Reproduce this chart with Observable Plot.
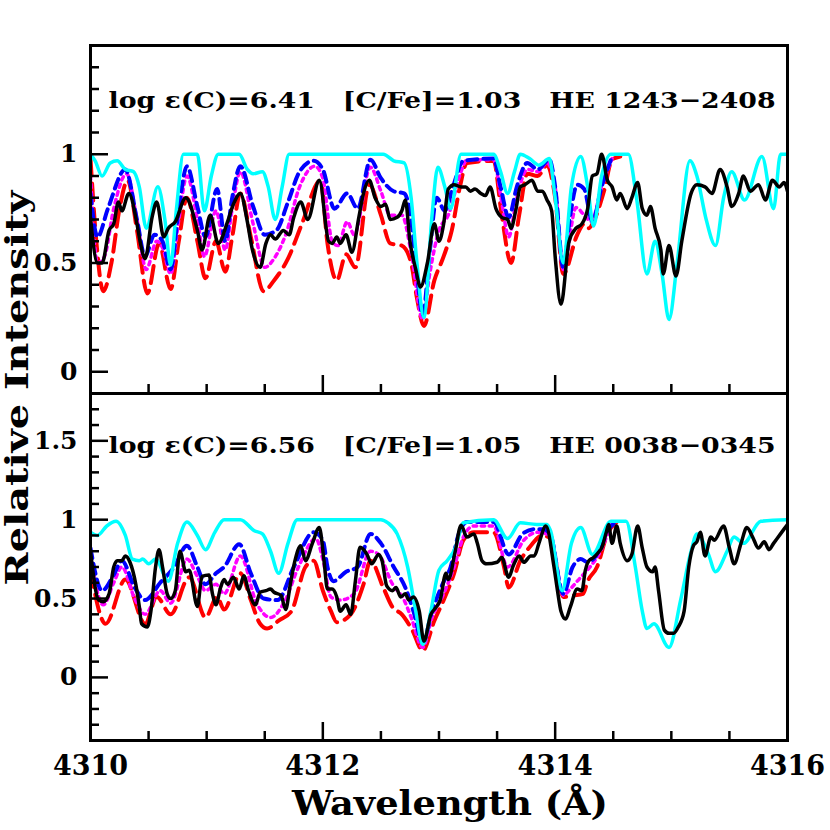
<!DOCTYPE html>
<html><head><meta charset="utf-8">
<script src="https://cdn.jsdelivr.net/npm/d3@7"></script>
<script src="https://cdn.jsdelivr.net/npm/@observablehq/plot@0.6"></script>
<style>
body{margin:0;background:#fff;}
#chart{position:relative;width:830px;height:830px;overflow:hidden;background:#fff;}
#chart > svg{position:absolute;left:0;}
</style></head><body><div id="chart"></div>
<script>
// ---------- data (wavelength in Å, relative intensity) ----------
const topCyan = [[4310.00,1.00],[4310.04,0.97],[4310.10,0.90],[4310.17,0.96],[4310.23,0.97],[4310.30,0.93],[4310.37,0.92],[4310.42,0.85],[4310.48,0.66],[4310.58,0.85],[4310.64,0.70],[4310.69,0.49],[4310.74,0.75],[4310.80,1.00],[4310.92,1.00],[4310.98,0.74],[4311.04,0.90],[4311.10,1.00],[4311.28,1.00],[4311.35,0.93],[4311.40,0.91],[4311.48,0.92],[4311.53,0.85],[4311.59,0.70],[4311.65,0.85],[4311.71,1.00],[4312.52,1.00],[4312.61,0.97],[4312.70,0.96],[4312.76,0.80],[4312.81,0.50],[4312.87,0.25],[4312.94,0.72],[4312.99,0.94],[4313.05,0.85],[4313.10,0.75],[4313.19,1.00],[4313.47,1.00],[4313.53,0.92],[4313.59,0.82],[4313.65,0.92],[4313.70,1.00],[4313.78,0.98],[4313.86,0.95],[4313.95,0.98],[4314.00,0.80],[4314.07,0.50],[4314.14,0.85],[4314.22,0.99],[4314.28,0.85],[4314.33,0.67],[4314.40,0.90],[4314.48,1.00],[4314.63,1.00],[4314.70,0.80],[4314.79,0.45],[4314.86,0.60],[4314.92,0.45],[4314.98,0.24],[4315.05,0.50],[4315.16,0.97],[4315.22,0.90],[4315.30,0.70],[4315.38,0.58],[4315.45,0.80],[4315.52,0.92],[4315.63,0.79],[4315.78,0.99],[4315.88,0.75],[4315.94,1.00],[4316.00,1.00]];
const topBlue = [[4310.00,0.82],[4310.06,0.62],[4310.15,0.75],[4310.30,0.93],[4310.40,0.70],[4310.47,0.53],[4310.55,0.63],[4310.62,0.60],[4310.69,0.47],[4310.76,0.75],[4310.83,0.945],[4310.92,0.76],[4310.99,0.62],[4311.09,0.84],[4311.16,0.60],[4311.22,0.80],[4311.29,0.945],[4311.40,0.76],[4311.50,0.63],[4311.60,0.65],[4311.70,0.78],[4311.80,0.92],[4311.92,0.97],[4312.00,0.93],[4312.10,0.75],[4312.21,0.82],[4312.30,0.75],[4312.41,0.975],[4312.50,0.89],[4312.61,0.83],[4312.70,0.82],[4312.76,0.70],[4312.81,0.45],[4312.86,0.26],[4312.92,0.55],[4312.98,0.80],[4313.05,0.74],[4313.12,0.85],[4313.21,0.97],[4313.47,0.98],[4313.53,0.85],[4313.60,0.71],[4313.67,0.85],[4313.76,0.96],[4313.85,0.93],[4313.95,0.975],[4314.00,0.85],[4314.07,0.48],[4314.13,0.72],[4314.19,0.86],[4314.25,0.84],[4314.32,0.69],[4314.40,0.85],[4314.49,0.99]];
const topMagenta = [[4310.00,0.90],[4310.06,0.50],[4310.12,0.53],[4310.20,0.75],[4310.31,0.91],[4310.40,0.70],[4310.48,0.47],[4310.57,0.60],[4310.62,0.57],[4310.69,0.45],[4310.76,0.70],[4310.83,0.90],[4310.92,0.70],[4310.98,0.53],[4311.08,0.74],[4311.16,0.56],[4311.22,0.75],[4311.29,0.92],[4311.40,0.68],[4311.50,0.48],[4311.58,0.52],[4311.68,0.63],[4311.80,0.85],[4311.93,0.945],[4312.00,0.89],[4312.08,0.60],[4312.13,0.58],[4312.21,0.69],[4312.27,0.63],[4312.41,0.94],[4312.50,0.83],[4312.58,0.72],[4312.68,0.72],[4312.76,0.55],[4312.86,0.24],[4312.92,0.45],[4313.00,0.65],[4313.08,0.72],[4313.19,0.92],[4313.24,0.975],[4313.47,0.975],[4313.54,0.78],[4313.60,0.62],[4313.67,0.80],[4313.76,0.93],[4313.85,0.92],[4313.93,0.96],[4314.00,0.85],[4314.07,0.47],[4314.18,0.755],[4314.25,0.72],[4314.31,0.69],[4314.40,0.85],[4314.49,0.98]];
const topRed = [[4310.00,0.98],[4310.05,0.60],[4310.11,0.37],[4310.18,0.50],[4310.25,0.75],[4310.32,0.88],[4310.40,0.65],[4310.49,0.36],[4310.59,0.59],[4310.69,0.38],[4310.76,0.60],[4310.83,0.80],[4310.92,0.60],[4310.99,0.43],[4311.08,0.60],[4311.16,0.46],[4311.22,0.62],[4311.29,0.82],[4311.38,0.62],[4311.49,0.37],[4311.58,0.42],[4311.70,0.52],[4311.82,0.68],[4311.98,0.88],[4312.04,0.59],[4312.12,0.42],[4312.20,0.54],[4312.28,0.48],[4312.40,0.86],[4312.50,0.72],[4312.58,0.59],[4312.68,0.58],[4312.76,0.50],[4312.81,0.34],[4312.87,0.21],[4312.96,0.42],[4313.04,0.53],[4313.11,0.65],[4313.18,0.85],[4313.24,0.96],[4313.47,0.97],[4313.54,0.72],[4313.62,0.50],[4313.69,0.72],[4313.76,0.91],[4313.85,0.90],[4313.93,0.95],[4314.00,0.80],[4314.07,0.45],[4314.19,0.63],[4314.25,0.68],[4314.29,0.66],[4314.33,0.69],[4314.42,0.83],[4314.49,0.975],[4314.56,0.99]];
const topBlack = [[4310.00,0.71],[4310.06,0.50],[4310.10,0.50],[4310.16,0.65],[4310.20,0.68],[4310.24,0.78],[4310.27,0.74],[4310.33,0.82],[4310.40,0.68],[4310.43,0.59],[4310.47,0.52],[4310.53,0.71],[4310.57,0.78],[4310.63,0.62],[4310.67,0.66],[4310.73,0.69],[4310.82,0.80],[4310.92,0.65],[4310.96,0.56],[4311.03,0.72],[4311.10,0.59],[4311.18,0.69],[4311.23,0.77],[4311.29,0.82],[4311.35,0.69],[4311.39,0.57],[4311.46,0.48],[4311.51,0.59],[4311.55,0.63],[4311.59,0.61],[4311.66,0.65],[4311.71,0.63],[4311.75,0.71],[4311.81,0.78],[4311.87,0.70],[4311.97,0.88],[4312.05,0.60],[4312.08,0.59],[4312.12,0.62],[4312.15,0.59],[4312.20,0.63],[4312.25,0.55],[4312.31,0.71],[4312.35,0.82],[4312.40,0.88],[4312.45,0.80],[4312.50,0.76],[4312.54,0.77],[4312.58,0.70],[4312.64,0.71],[4312.68,0.74],[4312.71,0.79],[4312.75,0.60],[4312.80,0.47],[4312.84,0.39],[4312.90,0.50],[4312.96,0.68],[4313.00,0.60],[4313.04,0.68],[4313.08,0.84],[4313.13,0.86],[4313.19,0.85],[4313.23,0.85],[4313.27,0.83],[4313.31,0.84],[4313.36,0.82],[4313.40,0.81],[4313.44,0.85],[4313.49,0.75],[4313.54,0.71],[4313.59,0.70],[4313.62,0.66],[4313.66,0.74],[4313.70,0.85],[4313.74,0.86],[4313.80,0.88],[4313.85,0.83],[4313.89,0.83],[4313.93,0.79],[4313.97,0.74],[4314.00,0.53],[4314.05,0.31],[4314.12,0.60],[4314.18,0.66],[4314.23,0.68],[4314.28,0.75],[4314.32,0.90],[4314.36,0.91],[4314.40,1.00],[4314.45,0.88],[4314.49,0.85],[4314.53,0.79],[4314.56,0.82],[4314.62,0.75],[4314.66,0.80],[4314.71,0.87],[4314.75,0.75],[4314.79,0.72],[4314.82,0.76],[4314.86,0.66],[4314.91,0.56],[4314.93,0.45],[4314.98,0.58],[4315.04,0.44],[4315.09,0.60],[4315.17,0.82],[4315.22,0.86],[4315.29,0.85],[4315.35,0.82],[4315.42,0.93],[4315.48,0.85],[4315.52,0.76],[4315.58,0.82],[4315.62,0.90],[4315.68,0.83],[4315.75,0.86],[4315.81,0.79],[4315.87,0.88],[4315.93,0.85],[4315.97,0.87],[4316.00,0.83]];

const botCyan = [[4310.00,0.92],[4310.06,0.90],[4310.14,0.96],[4310.22,0.99],[4310.30,0.90],[4310.36,0.75],[4310.42,0.74],[4310.45,0.75],[4310.50,0.72],[4310.56,0.75],[4310.67,0.61],[4310.75,0.85],[4310.83,0.985],[4310.92,0.90],[4310.99,0.81],[4311.07,0.92],[4311.15,1.00],[4311.29,1.00],[4311.41,0.93],[4311.48,0.91],[4311.55,0.80],[4311.62,0.66],[4311.70,0.85],[4311.78,1.00],[4312.50,1.00],[4312.56,0.98],[4312.64,0.91],[4312.73,0.70],[4312.80,0.42],[4312.86,0.21],[4312.93,0.42],[4313.00,0.68],[4313.07,0.74],[4313.14,0.82],[4313.21,0.98],[4313.47,1.00],[4313.59,0.88],[4313.70,0.98],[4313.84,0.97],[4313.93,0.97],[4313.96,0.93],[4314.06,0.55],[4314.14,0.85],[4314.22,0.95],[4314.32,0.78],[4314.48,0.99],[4314.61,0.99],[4314.69,0.70],[4314.75,0.42],[4314.79,0.31],[4314.85,0.34],[4314.98,0.19],[4315.08,0.49],[4315.17,0.80],[4315.22,0.91],[4315.32,0.78],[4315.38,0.67],[4315.48,0.80],[4315.54,0.89],[4315.62,0.85],[4315.77,0.99],[4316.00,1.00]];
const botBlue = [[4310.00,0.82],[4310.10,0.55],[4310.20,0.65],[4310.27,0.74],[4310.38,0.57],[4310.47,0.49],[4310.60,0.60],[4310.72,0.70],[4310.83,0.835],[4310.92,0.70],[4310.99,0.59],[4311.08,0.66],[4311.15,0.70],[4311.28,0.845],[4311.38,0.66],[4311.49,0.50],[4311.61,0.49],[4311.75,0.70],[4311.92,0.92],[4312.00,0.87],[4312.04,0.70],[4312.09,0.61],[4312.20,0.67],[4312.30,0.70],[4312.41,0.91],[4312.50,0.85],[4312.61,0.70],[4312.71,0.57],[4312.78,0.42],[4312.86,0.22],[4312.94,0.42],[4313.03,0.59],[4313.10,0.70],[4313.17,0.91],[4313.24,0.985],[4313.47,0.985],[4313.60,0.78],[4313.72,0.91],[4313.82,0.94],[4313.90,0.94],[4313.96,0.90],[4314.07,0.53],[4314.15,0.70],[4314.22,0.75],[4314.28,0.73],[4314.35,0.77],[4314.45,0.93],[4314.53,0.99]];
const botMagenta = [[4310.00,0.76],[4310.11,0.46],[4310.20,0.60],[4310.27,0.70],[4310.38,0.50],[4310.47,0.40],[4310.60,0.55],[4310.69,0.47],[4310.83,0.75],[4310.92,0.64],[4310.99,0.55],[4311.08,0.59],[4311.15,0.53],[4311.29,0.77],[4311.43,0.47],[4311.55,0.38],[4311.67,0.48],[4311.79,0.70],[4311.94,0.88],[4312.00,0.75],[4312.07,0.51],[4312.15,0.49],[4312.27,0.53],[4312.41,0.80],[4312.48,0.78],[4312.60,0.59],[4312.70,0.49],[4312.76,0.38],[4312.86,0.19],[4312.94,0.38],[4313.04,0.53],[4313.13,0.70],[4313.21,0.89],[4313.30,0.96],[4313.47,0.96],[4313.59,0.70],[4313.73,0.87],[4313.85,0.92],[4313.96,0.90],[4314.07,0.52],[4314.13,0.56],[4314.22,0.635],[4314.30,0.70],[4314.39,0.80],[4314.48,0.97]];
const botRed = [[4310.00,0.68],[4310.13,0.34],[4310.30,0.62],[4310.47,0.34],[4310.57,0.51],[4310.69,0.40],[4310.85,0.635],[4310.99,0.38],[4311.09,0.51],[4311.15,0.43],[4311.29,0.66],[4311.38,0.49],[4311.46,0.34],[4311.52,0.31],[4311.62,0.36],[4311.73,0.42],[4311.85,0.70],[4311.92,0.74],[4312.00,0.55],[4312.07,0.42],[4312.12,0.35],[4312.24,0.40],[4312.35,0.59],[4312.41,0.74],[4312.52,0.57],[4312.60,0.445],[4312.68,0.40],[4312.77,0.30],[4312.86,0.17],[4312.96,0.36],[4313.04,0.49],[4313.13,0.66],[4313.21,0.87],[4313.30,0.92],[4313.47,0.92],[4313.56,0.70],[4313.60,0.57],[4313.70,0.74],[4313.79,0.835],[4313.89,0.90],[4313.96,0.88],[4314.07,0.51],[4314.16,0.52],[4314.24,0.53],[4314.28,0.61],[4314.36,0.70],[4314.45,0.91],[4314.53,0.985]];
const botBlack = [[4310.00,0.80],[4310.07,0.49],[4310.11,0.48],[4310.16,0.53],[4310.20,0.70],[4310.23,0.74],[4310.27,0.74],[4310.30,0.77],[4310.34,0.73],[4310.39,0.59],[4310.42,0.45],[4310.44,0.34],[4310.49,0.32],[4310.52,0.42],[4310.56,0.70],[4310.59,0.81],[4310.62,0.70],[4310.66,0.53],[4310.69,0.50],[4310.73,0.55],[4310.77,0.80],[4310.82,0.67],[4310.85,0.68],[4310.92,0.45],[4310.96,0.64],[4311.02,0.65],[4311.05,0.53],[4311.08,0.46],[4311.12,0.57],[4311.15,0.62],[4311.18,0.59],[4311.23,0.635],[4311.28,0.56],[4311.32,0.645],[4311.36,0.55],[4311.42,0.46],[4311.46,0.54],[4311.51,0.55],[4311.55,0.56],[4311.58,0.54],[4311.64,0.52],[4311.68,0.43],[4311.72,0.59],[4311.76,0.74],[4311.81,0.835],[4311.85,0.74],[4311.91,0.85],[4311.97,0.95],[4312.01,0.74],[4312.04,0.56],[4312.08,0.56],[4312.12,0.51],[4312.15,0.42],[4312.20,0.46],[4312.24,0.40],[4312.28,0.61],[4312.32,0.825],[4312.38,0.78],[4312.42,0.72],[4312.48,0.78],[4312.51,0.74],[4312.55,0.58],[4312.60,0.55],[4312.63,0.57],[4312.67,0.51],[4312.71,0.53],[4312.74,0.49],[4312.78,0.51],[4312.83,0.42],[4312.87,0.23],[4312.93,0.40],[4312.97,0.44],[4313.01,0.49],[4313.06,0.66],[4313.08,0.62],[4313.14,0.80],[4313.19,0.965],[4313.24,0.89],[4313.30,0.91],[4313.33,0.85],[4313.37,0.74],[4313.41,0.72],[4313.50,0.73],[4313.54,0.76],[4313.60,0.635],[4313.64,0.71],[4313.69,0.77],[4313.73,0.73],[4313.79,0.77],[4313.82,0.77],[4313.86,0.85],[4313.92,0.96],[4313.99,0.70],[4314.02,0.55],[4314.05,0.42],[4314.09,0.37],[4314.13,0.445],[4314.19,0.56],[4314.23,0.55],[4314.26,0.68],[4314.29,0.74],[4314.33,0.76],[4314.38,0.80],[4314.40,0.82],[4314.44,0.92],[4314.46,0.97],[4314.49,0.85],[4314.53,0.96],[4314.56,0.85],[4314.62,0.74],[4314.66,0.78],[4314.71,0.96],[4314.75,0.82],[4314.79,0.70],[4314.84,0.67],[4314.86,0.70],[4314.89,0.55],[4314.94,0.30],[4314.98,0.28],[4315.02,0.28],[4315.06,0.32],[4315.11,0.42],[4315.15,0.70],[4315.19,0.835],[4315.22,0.86],[4315.25,0.92],[4315.29,0.77],[4315.34,0.89],[4315.37,0.87],[4315.45,0.96],[4315.50,0.82],[4315.54,0.72],[4315.60,0.85],[4315.65,0.95],[4315.70,0.89],[4315.75,0.82],[4315.80,0.86],[4315.84,0.81],[4315.88,0.85],[4315.94,0.91],[4316.00,0.97]];

const topLabel = "log \u03B5(C)=6.41   [C/Fe]=1.03   HE 1243\u22122408";
const botLabel = "log \u03B5(C)=6.56   [C/Fe]=1.05   HE 0038\u22120345";
const xLabelTicks = [4310, 4312, 4314, 4316];
const xLongTicks = [4312, 4314];
const xShortTicks = [4310.5, 4311, 4311.5, 4312.5, 4313, 4313.5, 4314.5, 4315, 4315.5];
const topYLabels = [0, 0.5, 1];
const topYMinor = [0.1, 0.2, 0.3, 0.4, 0.6, 0.7, 0.8, 0.9, 1.1, 1.2, 1.3, 1.4];
const botYLabels = [0, 0.5, 1, 1.5];
const botYMinor = [-0.3, -0.2, -0.1, 0.1, 0.2, 0.3, 0.4, 0.6, 0.7, 0.8, 0.9, 1.1, 1.2, 1.3, 1.4, 1.6, 1.7];

// ---------- styles ----------
const FONT = "'DejaVu Serif', 'Liberation Serif', serif";
const lineStyles = {
  red:     {stroke: "#ff0000", strokeWidth: 4, strokeDasharray: "17,8"},
  magenta: {stroke: "#ff00ff", strokeWidth: 3.5, strokeDasharray: "3.5,4.5"},
  blue:    {stroke: "#0000ff", strokeWidth: 4, strokeDasharray: "10,6"},
  cyan:    {stroke: "#00ffff", strokeWidth: 3.5},
  black:   {stroke: "#000000", strokeWidth: 3.5}
};

function panel(s, label, yDomain, yLabels, yMinor, opts) {
  const lines = ["red", "magenta", "blue", "cyan", "black"].map(k =>
    Plot.line(s[k], {x: d => d[0], y: d => d[1], curve: "monotone-x", clip: true, strokeLinejoin: "round", ...lineStyles[k]}));
  return Plot.plot({
    width: 830, height: opts.height,
    marginLeft: 90, marginRight: 43, marginTop: opts.marginTop, marginBottom: opts.marginBottom,
    x: {domain: [4310, 4316], label: null},
    y: {domain: yDomain, label: null},
    style: {background: "transparent", overflow: "visible", fontFamily: FONT, fontWeight: "bold", fontSize: "25px", color: "#000"},
    marks: [
      ...lines,
      Plot.axisY(yMinor, {tickSize: -9, strokeWidth: 2.5, tickFormat: () => "", label: null}),
      Plot.axisY(yLabels, {tickSize: -18, strokeWidth: 2.5, tickFormat: () => "", label: null}),
      Plot.axisY(yLabels, {tickSize: 0, tickPadding: 13, tickFormat: d => String(d), fontSize: 25, fontWeight: "bold", label: null}),
      Plot.axisX(xShortTicks, {tickSize: -9, strokeWidth: 2.5, tickFormat: () => "", label: null}),
      Plot.axisX(xLongTicks, {tickSize: -18, strokeWidth: 2.5, tickFormat: () => "", label: null}),
      opts.xLabels ? Plot.axisX(xLabelTicks, {tickSize: 0, tickPadding: 15, tickFormat: d => String(d), fontSize: 27, fontWeight: "bold", label: null}) : null,
      Plot.frame({stroke: "#000", strokeWidth: 3}),
      Plot.text([label], {frameAnchor: "top-left", dx: 18, dy: opts.labelDy, lineAnchor: "middle", textAnchor: "start", fontSize: 23, fontWeight: "bold", fill: "#000"})
    ]
  });
}

const chart = document.getElementById("chart");
const topPlot = panel({red: topRed, magenta: topMagenta, blue: topBlue, cyan: topCyan, black: topBlack},
  topLabel, [-0.1, 1.5], topYLabels, topYMinor, {height: 395, marginTop: 45, marginBottom: 2, xLabels: false, labelDy: 55});
topPlot.style.top = "0px";
const botPlot = panel({red: botRed, magenta: botMagenta, blue: botBlue, cyan: botCyan, black: botBlack},
  botLabel, [-0.4, 1.8], botYLabels, botYMinor, {height: 439, marginTop: 2, marginBottom: 90, xLabels: true, labelDy: 52});
botPlot.style.top = "391px";
chart.appendChild(botPlot);
chart.appendChild(topPlot);

for (const svg of [topPlot, botPlot]) {
  svg.querySelectorAll('g[aria-label="text"] text').forEach(t => {
    t.setAttribute("textLength", 667);
    t.setAttribute("lengthAdjust", "spacingAndGlyphs");
  });
}

// axis titles
const ov = d3.create("svg").attr("width", 830).attr("height", 830)
  .style("top", "0px").style("pointer-events", "none")
  .style("font-family", FONT).style("font-weight", "bold");
ov.append("text").attr("x", 450).attr("y", 815).attr("text-anchor", "middle")
  .attr("font-size", 34).attr("textLength", 316).attr("lengthAdjust", "spacingAndGlyphs")
  .text("Wavelength (\u00C5)");
ov.append("text").attr("transform", "translate(28,388) rotate(-90)").attr("text-anchor", "middle")
  .attr("font-size", 31).attr("textLength", 395).attr("lengthAdjust", "spacingAndGlyphs")
  .text("Relative Intensity");
chart.appendChild(ov.node());
</script></body></html>
